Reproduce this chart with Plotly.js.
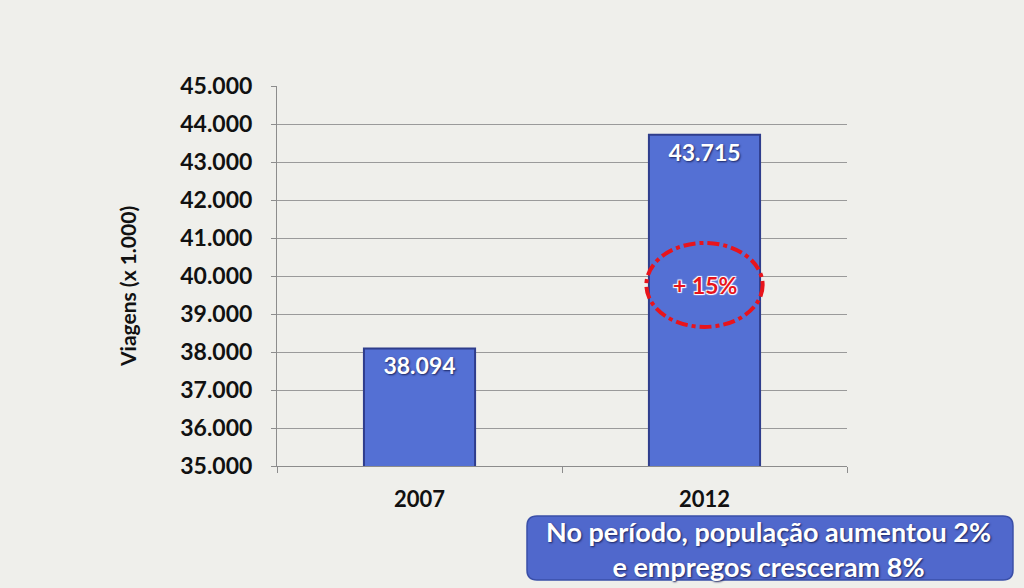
<!DOCTYPE html>
<html><head><meta charset="utf-8">
<script src="https://cdn.plot.ly/plotly-3.0.1.min.js"></script>
<style>body{margin:0;background:#efefeb}</style>
</head><body>
<div id="chart" style="width:1024px;height:588px"></div>
<script>
const categories = ["2007", "2012"];
const values = [38094, 43715];
const valueLabels = ["38.094", "43.715"];
const yTickVals = [35000, 36000, 37000, 38000, 39000, 40000, 41000, 42000, 43000, 44000, 45000];
const yTickText = ["35.000","36.000","37.000","38.000","39.000","40.000","41.000","42.000","43.000","44.000","45.000"];
const yTitle = "Viagens (x 1.000)";
const growthLabel = "+ 15%";
const noteText = "No período, população aumentou 2%<br>e empregos cresceram 8%";

const FONT = "Lato, 'Open Sans', sans-serif";

const trace = {
  type: "bar",
  x: categories,
  y: values,
  text: valueLabels,
  textposition: "inside",
  insidetextanchor: "end",
  textangle: 0,
  textfont: {family: FONT, size: 23, color: "#ffffff", weight: 700, shadow: "1px 1px 2px #1a2460"},
  marker: {color: "#5470d4", line: {color: "#2f3d8c", width: 2}},
  width: 0.39,
  hoverinfo: "none"
};

const L = 277, R = 847, T = 86, B = 466;
const px = x => (x - L) / (R - L);
const py = y => (B - y) / (B - T);
function roundedRect(x0, y0, x1, y1, r) {
  const X = v => px(v).toFixed(4), Y = v => py(v).toFixed(4);
  return `M ${X(x0 + r)} ${Y(y0)} L ${X(x1 - r)} ${Y(y0)} Q ${X(x1)} ${Y(y0)} ${X(x1)} ${Y(y0 + r)} ` +
         `L ${X(x1)} ${Y(y1 - r)} Q ${X(x1)} ${Y(y1)} ${X(x1 - r)} ${Y(y1)} L ${X(x0 + r)} ${Y(y1)} ` +
         `Q ${X(x0)} ${Y(y1)} ${X(x0)} ${Y(y1 - r)} L ${X(x0)} ${Y(y0 + r)} Q ${X(x0)} ${Y(y0)} ${X(x0 + r)} ${Y(y0)} Z`;
}

const layout = {
  width: 1024, height: 588,
  paper_bgcolor: "#efefeb",
  plot_bgcolor: "rgba(0,0,0,0)",
  margin: {l: L, r: 1024 - R, t: T, b: 588 - B},
  showlegend: false,
  bargap: 0.6,
  xaxis: {
    type: "category",
    tickson: "boundaries",
    ticks: "outside", ticklen: 6, tickcolor: "#8c8c8c",
    showline: true, linecolor: "#8c8c8c", linewidth: 1,
    showgrid: false,
    tickfont: {family: FONT, size: 22, color: "#111111", weight: 700},
    ticklabelstandoff: 14
  },
  yaxis: {
    range: [35000, 45000],
    tickvals: yTickVals,
    ticktext: yTickText,
    ticks: "outside", ticklen: 5, tickcolor: "#8c8c8c",
    showline: true, linecolor: "#8c8c8c", linewidth: 1,
    gridcolor: "#9a9a9a", gridwidth: 1,
    zeroline: false,
    tickfont: {family: FONT, size: 23, color: "#111111", weight: 700},
    ticklabelstandoff: 14
  },
  shapes: [
    {type: "circle", xref: "x", yref: "y", x0: 0.796, x1: 1.204, y0: 38660, y1: 40870,
     line: {color: "#e8141c", width: 4, dash: "dashdot"}, fillcolor: "rgba(0,0,0,0)", layer: "above"},
    {type: "path", xref: "paper", yref: "paper", path: roundedRect(527, 516, 1013, 580, 10),
     fillcolor: "#5068cc", line: {color: "#3a4fa8", width: 1.5}, layer: "above"}
  ],
  annotations: [
    {xref: "paper", yref: "paper", x: px(127), y: py(287), text: yTitle, showarrow: false,
     textangle: -90, xanchor: "center", yanchor: "middle",
     font: {family: FONT, size: 21, color: "#111111", weight: 700}},
    {xref: "x", yref: "y", x: 1, y: 39770, text: growthLabel, showarrow: false,
     xanchor: "center", yanchor: "middle",
     font: {family: FONT, size: 23, color: "#e8141c", weight: 700, shadow: "1px 1px 1px #ffffff, -1px -1px 1px #ffffff, 1px -1px 1px #ffffff, -1px 1px 1px #ffffff"}},
    {xref: "paper", yref: "paper", x: px(768), y: py(549), text: noteText, showarrow: false,
     xanchor: "center", yanchor: "middle", align: "center",
     font: {family: FONT, size: 27, color: "#ffffff", weight: 700, shadow: "1px 1px 2px #1a2460"}}
  ]
};

Plotly.newPlot("chart", [trace], layout, {displayModeBar: false, staticPlot: true});
</script>
</body></html>
